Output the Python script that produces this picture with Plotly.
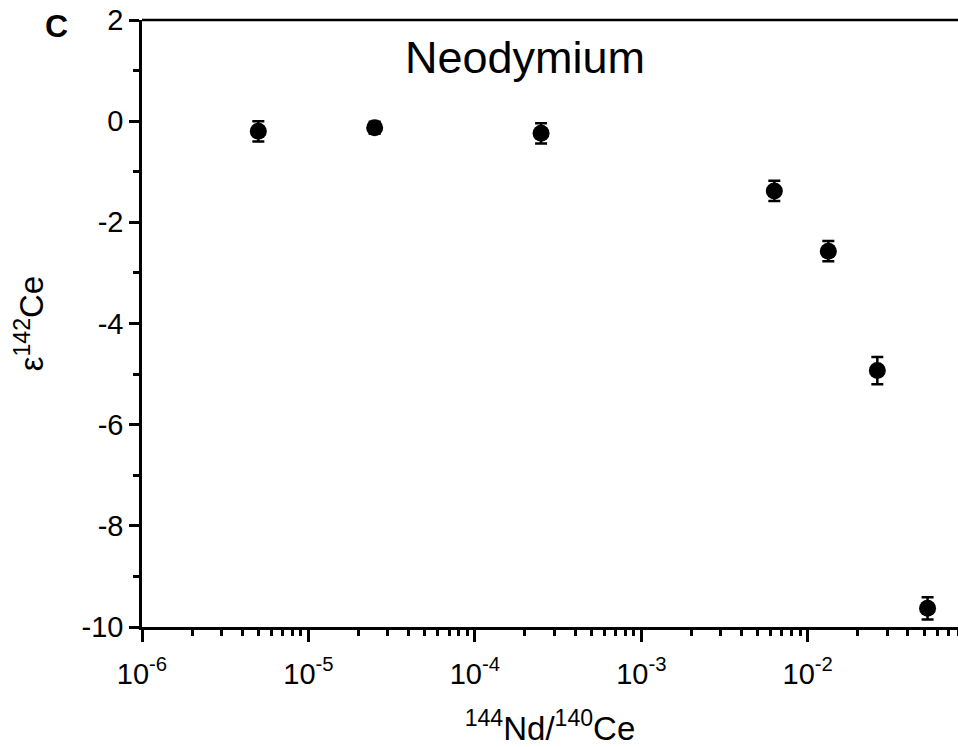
import numpy as np
import plotly.graph_objects as go

# 144Nd/140Ce doping ratio and measured epsilon-142Ce
nd_ce_ratio = [5.0e-6, 2.5e-5, 2.5e-4, 6.3e-3, 1.33e-2, 2.62e-2, 5.25e-2]
eps_142ce = [-0.20, -0.13, -0.24, -1.38, -2.57, -4.93, -9.63]
eps_err = [0.20, 0.12, 0.20, 0.20, 0.20, 0.27, 0.22]

x_major = [1e-6, 1e-5, 1e-4, 1e-3, 1e-2]
x_major_text = ["10<sup>-6</sup>", "10<sup>-5</sup>", "10<sup>-4</sup>",
                "10<sup>-3</sup>", "10<sup>-2</sup>"]
x_minor = [m * d for d in [1e-6, 1e-5, 1e-4, 1e-3, 1e-2] for m in range(2, 10)]
y_major = [2, 0, -2, -4, -6, -8, -10]
y_major_text = ["2", "0", "-2", "-4", "-6", "-8", "-10"]
y_minor = [1, -1, -3, -5, -7, -9]

FONT = "Liberation Sans, Arial, sans-serif"
AXW = 2.5

fig = go.Figure()
fig.add_trace(go.Scatter(
    x=nd_ce_ratio, y=eps_142ce, mode="markers",
    marker=dict(color="black", size=17, line=dict(width=0)),
    error_y=dict(type="data", array=eps_err, visible=True,
                 color="black", thickness=2.5, width=6),
    showlegend=False,
))

fig.update_layout(
    width=958, height=747,
    margin=dict(l=142, r=0, t=20, b=120),
    paper_bgcolor="white", plot_bgcolor="white",
    font=dict(family=FONT, color="black", size=29),
    xaxis=dict(
        type="log", range=[-6, -1.097],
        showline=True, linecolor="black", linewidth=AXW,
        showgrid=False, zeroline=False,
        ticks="outside", ticklen=12, tickwidth=AXW, tickcolor="black",
        tickvals=x_major, ticktext=x_major_text,
        tickfont=dict(size=29, family=FONT), ticklabelstandoff=7,
        minor=dict(tickvals=x_minor, ticks="outside", ticklen=6,
                   tickwidth=AXW, tickcolor="black", showgrid=False),
        title=dict(text="<sup>144</sup>Nd/<sup>140</sup>Ce",
                   font=dict(size=33, family=FONT), standoff=34),
    ),
    yaxis=dict(
        range=[-10, 2],
        showline=True, linecolor="black", linewidth=AXW,
        showgrid=False, zeroline=False,
        ticks="outside", ticklen=10, tickwidth=AXW, tickcolor="black",
        tickvals=y_major, ticktext=y_major_text,
        tickfont=dict(size=29, family=FONT),
        minor=dict(tickvals=y_minor, ticks="outside", ticklen=6,
                   tickwidth=AXW, tickcolor="black", showgrid=False),
        title=dict(text="\u03b5<sup>142</sup>Ce",
                   font=dict(size=33, family=FONT), standoff=28),
    ),
)

# top frame line
fig.add_shape(type="line", xref="paper", yref="paper",
              x0=0, x1=1, y0=1, y1=1,
              line=dict(color="black", width=AXW))

fig.add_annotation(text="Neodymium", xref="paper", yref="paper",
                   x=0.469, y=0.939, xanchor="center", yanchor="middle",
                   showarrow=False, font=dict(size=45, family=FONT))
fig.add_annotation(text="<b>C</b>", xref="paper", yref="paper",
                   x=-0.105, y=0.99, xanchor="center", yanchor="middle",
                   showarrow=False, font=dict(size=32, family=FONT))

fig.write_html("out.html")
